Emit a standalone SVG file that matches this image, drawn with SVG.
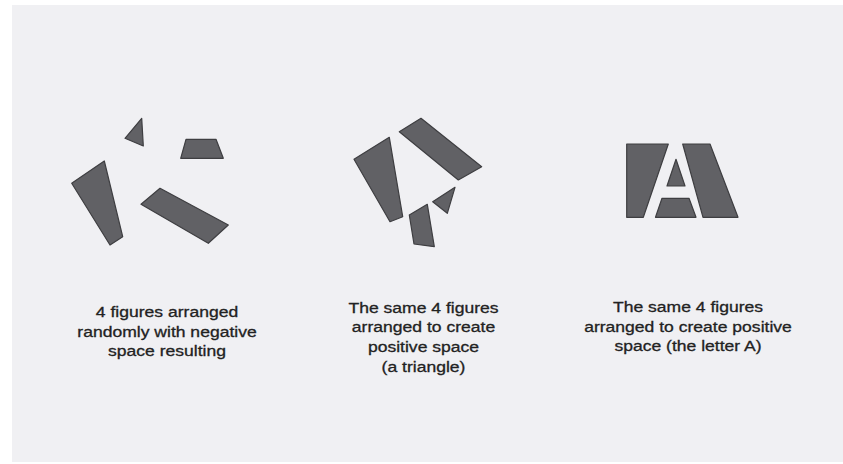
<svg xmlns="http://www.w3.org/2000/svg" width="843" height="464" viewBox="0 0 843 464">
<style>
.bg{fill:#f0f0f3}
.shape{fill:#616165;stroke:#3e3e41;stroke-width:1.2;stroke-linejoin:round}
.lbl{font-family:"Liberation Sans","Arial",sans-serif;font-size:15px;fill:#222222;stroke:#222222;stroke-width:0.3;text-anchor:middle}
</style>
<rect x="0" y="0" width="843" height="464" fill="#ffffff"/>
<rect class="bg" x="12" y="5" width="831" height="457"/>
<g id="random">
<polygon class="shape" points="141.7,118.3 125,138.3 143.3,146"/>
<polygon class="shape" points="186,139.3 216,139.3 223.3,158.3 180.7,158.3"/>
<polygon class="shape" points="71.7,183.3 104.3,161 122.7,236.7 110,245"/>
<polygon class="shape" points="141,204.3 160,188.3 228.3,225 208.3,243.3"/>
</g>
<g id="triangle">
<polygon class="shape" points="354,159.3 389.3,137.3 402.7,216.7 390,221.7"/>
<polygon class="shape" points="399.3,131.7 421,118.3 481.7,166.7 458.3,180"/>
<polygon class="shape" points="455,187.3 432.7,201.7 447.3,213.3"/>
<polygon class="shape" points="409.3,215 427.3,204.3 434.3,246.7 414,244"/>
</g>
<g id="letterA">
<polygon class="shape" points="626.7,144 668.3,144 643.3,217.3 626.7,217.3"/>
<polygon class="shape" points="682.7,144 710,144 738,217.3 703,217.3"/>
<polygon class="shape" points="676,159.3 685,186 667,186"/>
<polygon class="shape" points="662,198.3 689,198.3 696,217.3 655.5,217.3"/>
</g>
<g id="label-random" transform="translate(167,0) scale(1.17,1)">
<text class="lbl" x="0" y="317">4 figures arranged</text>
<text class="lbl" x="0" y="337">randomly with negative</text>
<text class="lbl" x="0" y="356.5">space resulting</text>
</g>
<g id="label-triangle" transform="translate(423.5,0) scale(1.17,1)">
<text class="lbl" x="0" y="313">The same 4 figures</text>
<text class="lbl" x="0" y="332.5">arranged to create</text>
<text class="lbl" x="0" y="352">positive space</text>
<text class="lbl" x="0" y="371.5">(a triangle)</text>
</g>
<g id="label-letterA" transform="translate(688,0) scale(1.17,1)">
<text class="lbl" x="0" y="312">The same 4 figures</text>
<text class="lbl" x="0" y="331.7">arranged to create positive</text>
<text class="lbl" x="0" y="351.5">space (the letter A)</text>
</g>
</svg>
